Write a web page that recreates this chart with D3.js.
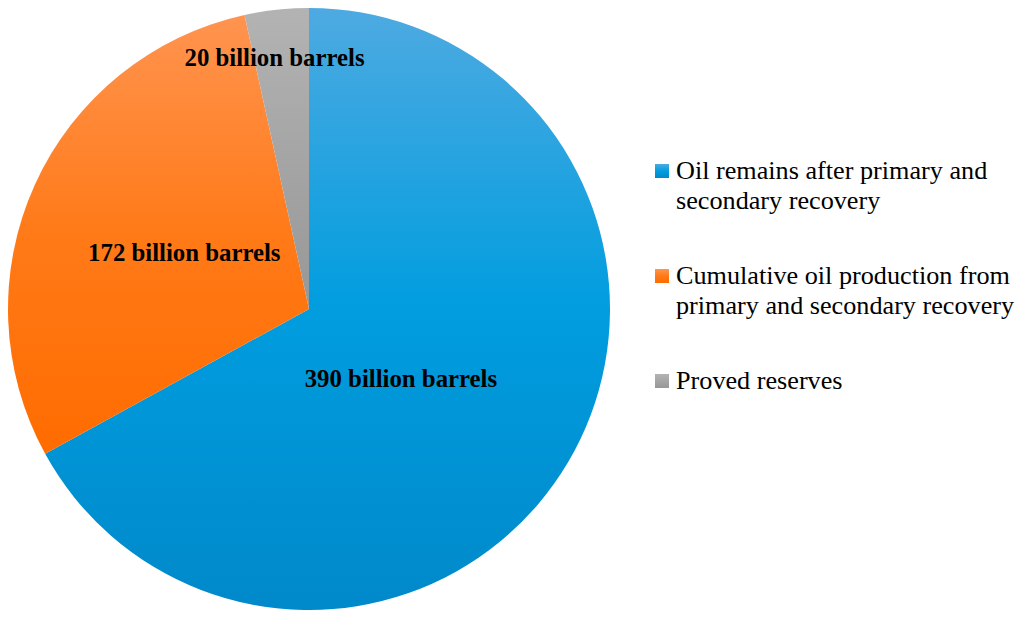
<!DOCTYPE html>
<html><head><meta charset="utf-8">
<script src="https://cdn.jsdelivr.net/npm/d3@7"></script>
<style>html,body{margin:0;padding:0;background:#fff;}svg{display:block;}</style>
</head><body>
<svg id="chart" width="1024" height="623"></svg>
<script>
const categories = ["Oil remains after primary and secondary recovery",
  "Cumulative oil production from primary and secondary recovery",
  "Proved reserves"];
const legendLines = [["Oil remains after primary and","secondary recovery"],
  ["Cumulative oil production from","primary and secondary recovery"],
  ["Proved reserves"]];
const values = [390, 172, 20];
const labels = ["390 billion barrels", "172 billion barrels", "20 billion barrels"];

const svg = d3.select("#chart");
const cx = 309, cy = 309, R = 301;
const font = "'Liberation Serif', 'Times New Roman', serif";

const grads = [
  [["0", "#4eaae1"], ["0.5", "#009ddf"], ["1", "#0089ca"]],
  [["0", "#ff9450"], ["0.5", "#ff7a18"], ["1", "#ff6c00"]],
  [["0", "#b3b3b3"], ["0.5", "#a5a5a5"], ["1", "#979797"]]
];
const defs = svg.append("defs");
grads.forEach((g, i) => {
  const lg = defs.append("linearGradient").attr("id", "g" + i)
    .attr("x1", 0).attr("y1", 0).attr("x2", 0).attr("y2", 1);
  g.forEach(s => lg.append("stop").attr("offset", s[0]).attr("stop-color", s[1]));
});

const pie = d3.pie().sort(null).value(d => d);
const arcs = pie(values);
const arc = d3.arc().innerRadius(0).outerRadius(R);
const g = svg.append("g").attr("transform", `translate(${cx},${cy})`);
g.selectAll("path").data(arcs).join("path")
  .attr("d", arc).attr("fill", (d, i) => `url(#g${i})`);

// label placement: radius factor and angular nudge (degrees)
const labelPlace = [[0.382, 6.3], [0.455, 0], [0.845, -1.6]];
g.selectAll("text.lbl").data(arcs).join("text").attr("class", "lbl")
  .attr("transform", (d, i) => {
    const a = (d.startAngle + d.endAngle) / 2 + labelPlace[i][1] * Math.PI / 180;
    const r = R * labelPlace[i][0];
    return `translate(${Math.sin(a) * r},${-Math.cos(a) * r})`;
  })
  .attr("text-anchor", "middle").attr("dy", "0.35em")
  .style("font-family", font).style("font-weight", "bold").style("font-size", "24.8px")
  .attr("fill", "#000").text((d, i) => labels[i]);

const legY = [179, 284, 389];
const leg = svg.append("g");
legendLines.forEach((lines, i) => {
  leg.append("rect").attr("x", 655).attr("y", legY[i] - 15).attr("width", 14).attr("height", 14)
    .attr("fill", `url(#g${i})`);
  const t = leg.append("text").attr("x", 676).attr("y", legY[i])
    .style("font-family", font).style("font-size", "26.2px").attr("fill", "#000");
  lines.forEach((l, j) => t.append("tspan").attr("x", 676).attr("dy", j ? 30 : 0).text(l));
});
</script>
</body></html>
